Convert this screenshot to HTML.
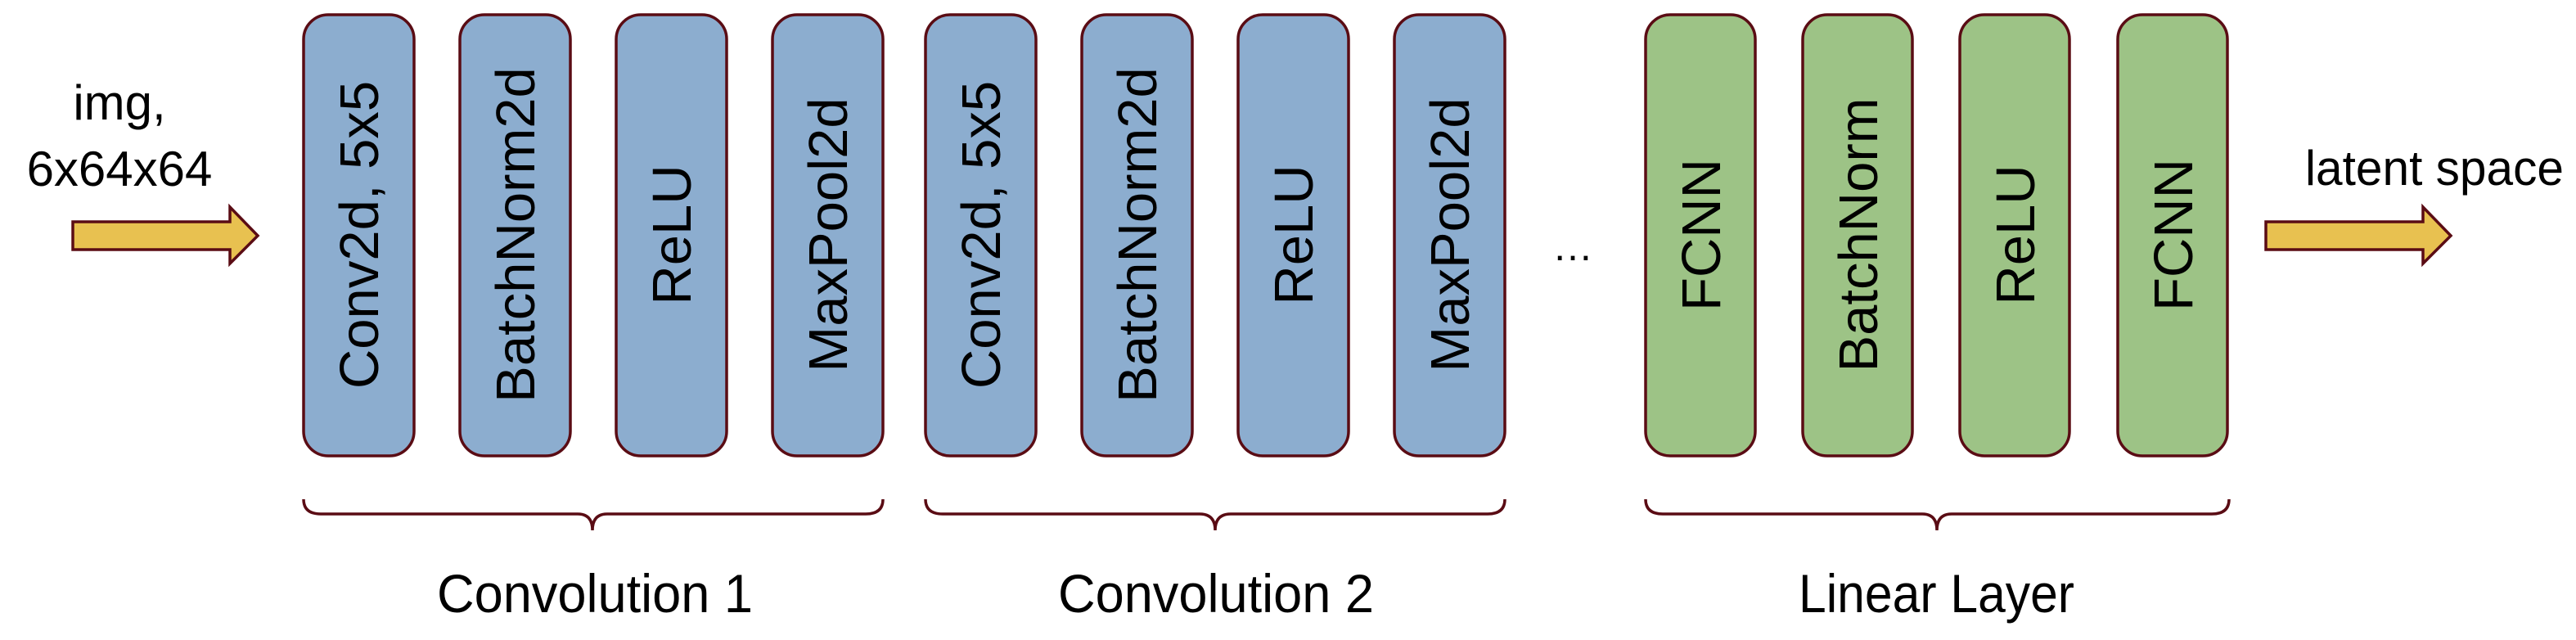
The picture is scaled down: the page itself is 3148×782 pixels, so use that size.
<!DOCTYPE html>
<html><head><meta charset="utf-8"><style>
html,body{margin:0;padding:0;background:#fff;}
svg{display:block}
</style></head><body>
<svg width="3148" height="782" viewBox="0 0 3148 782" xmlns="http://www.w3.org/2000/svg">
<g stroke="#5a0c14" stroke-width="3.5">
<rect x="371" y="18" width="135" height="539" rx="30" fill="#8CADCF"/>
<rect x="562" y="18" width="135" height="539" rx="30" fill="#8CADCF"/>
<rect x="753" y="18" width="135" height="539" rx="30" fill="#8CADCF"/>
<rect x="944" y="18" width="135" height="539" rx="30" fill="#8CADCF"/>
<rect x="1131" y="18" width="135" height="539" rx="30" fill="#8CADCF"/>
<rect x="1322" y="18" width="135" height="539" rx="30" fill="#8CADCF"/>
<rect x="1513" y="18" width="135" height="539" rx="30" fill="#8CADCF"/>
<rect x="1704" y="18" width="135" height="539" rx="30" fill="#8CADCF"/>
<rect x="2011" y="18" width="134" height="539" rx="30" fill="#9DC386"/>
<rect x="2203" y="18" width="134" height="539" rx="30" fill="#9DC386"/>
<rect x="2395" y="18" width="134" height="539" rx="30" fill="#9DC386"/>
<rect x="2588" y="18" width="134" height="539" rx="30" fill="#9DC386"/>
<path d="M89,271 H281 V253 L315,288 L281,322 V305 H89 Z" fill="#E8C150"/>
<path d="M2769,271 H2961 V253 L2995,288 L2961,322 V305 H2769 Z" fill="#E8C150"/>
</g>
<g fill="none" stroke="#5a0c14" stroke-width="3.5">
<path d="M371,610 Q371,628 392,628 H706 Q724,628 724,648 Q724,628 742,628 H1058 Q1079,628 1079,610"/>
<path d="M1131,610 Q1131,628 1152,628 H1466 Q1485,628 1485,648 Q1485,628 1504,628 H1818 Q1839,628 1839,610"/>
<path d="M2011,610 Q2011,628 2032,628 H2349 Q2367,628 2367,648 Q2367,628 2385,628 H2703 Q2724,628 2724,610"/>
</g>
<g font-family="Liberation Sans, sans-serif" font-size="67" fill="#000" text-anchor="middle">
<text transform="translate(462,287) rotate(-90)">Conv2d, 5x5</text>
<text transform="translate(653,287) rotate(-90)">BatchNorm2d</text>
<text transform="translate(844,287) rotate(-90)">ReLU</text>
<text transform="translate(1035,287) rotate(-90)">MaxPool2d</text>
<text transform="translate(1222,287) rotate(-90)">Conv2d, 5x5</text>
<text transform="translate(1413,287) rotate(-90)">BatchNorm2d</text>
<text transform="translate(1604,287) rotate(-90)">ReLU</text>
<text transform="translate(1795,287) rotate(-90)">MaxPool2d</text>
<text transform="translate(2102,287) rotate(-90)">FCNN</text>
<text transform="translate(2294,287) rotate(-90)">BatchNorm</text>
<text transform="translate(2486,287) rotate(-90)">ReLU</text>
<text transform="translate(2679,287) rotate(-90)">FCNN</text>
</g>
<g font-family="Liberation Sans, sans-serif" fill="#000">
<text x="146" y="146" font-size="60" text-anchor="middle">img,</text>
<text x="146" y="227" font-size="60" text-anchor="middle">6x64x64</text>
<text x="2817" y="226" font-size="60" textLength="316" lengthAdjust="spacingAndGlyphs">latent space</text>
<text x="534" y="748" font-size="66" textLength="386" lengthAdjust="spacingAndGlyphs">Convolution 1</text>
<text x="1293" y="748" font-size="66" textLength="386" lengthAdjust="spacingAndGlyphs">Convolution 2</text>
<text x="2198" y="748" font-size="66" textLength="337" lengthAdjust="spacingAndGlyphs">Linear Layer</text>
<text x="1922" y="318" font-size="50" text-anchor="middle">…</text>
</g>
</svg>
</body></html>
